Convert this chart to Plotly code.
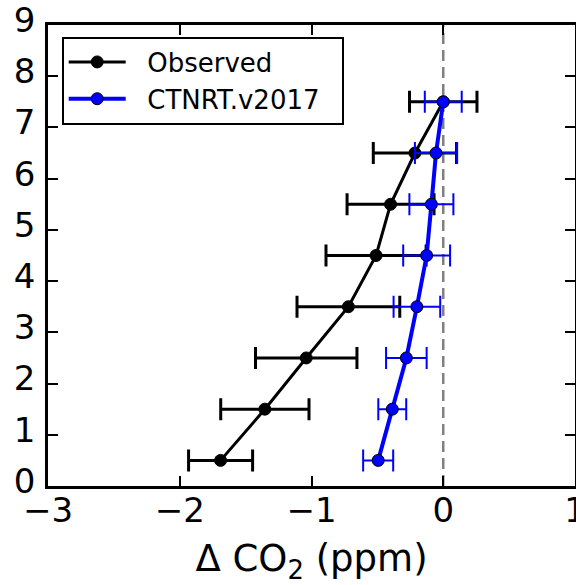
import plotly.graph_objects as go

# Data
altitude = [0.5, 1.5, 2.5, 3.5, 4.5, 5.5, 6.5, 7.5]
obs_dco2 = [-1.69, -1.354, -1.04, -0.72, -0.51, -0.40, -0.215, 0.0]
obs_err = [0.243, 0.335, 0.385, 0.39, 0.38, 0.33, 0.316, 0.256]
mod_dco2 = [-0.494, -0.387, -0.28, -0.20, -0.126, -0.09, -0.055, 0.0]
mod_err = [0.114, 0.106, 0.154, 0.177, 0.178, 0.167, 0.16, 0.14]

series_names = ["Observed", "CTNRT.v2017"]
x_ticks = [-3, -2, -1, 0, 1]
y_ticks = [0, 1, 2, 3, 4, 5, 6, 7, 8, 9]

FONT = "DejaVu Sans"
PAD = "\u00a0\u00a0"

fig = go.Figure()

fig.add_trace(go.Scatter(
    x=obs_dco2, y=altitude, name=PAD + series_names[0] + PAD, mode="lines+markers",
    line=dict(color="black", width=3),
    marker=dict(color="black", size=12, line=dict(color="black", width=1)),
    error_x=dict(type="data", array=obs_err, visible=True, color="black",
                 thickness=3, width=11),
))
fig.add_trace(go.Scatter(
    x=mod_dco2, y=altitude, name=PAD + series_names[1] + PAD, mode="lines+markers",
    line=dict(color="blue", width=4),
    marker=dict(color="blue", size=12, line=dict(color="black", width=1)),
    error_x=dict(type="data", array=mod_err, visible=True, color="blue",
                 thickness=2, width=11),
))

fig.add_shape(type="line", xref="x", yref="paper", x0=0, x1=0, y0=0, y1=1,
              line=dict(color="gray", width=2.5, dash="11px,6px"), layer="below")

axis_common = dict(
    showgrid=False, zeroline=False, showline=True, linecolor="black",
    linewidth=2.5, mirror="ticks", ticks="inside", ticklen=10, tickwidth=1.5,
    tickcolor="black", tickfont=dict(family=FONT, size=34, color="black"),
    ticklabeloverflow="allow", automargin=False,
)

fig.update_xaxes(range=[-3, 1], tickvals=x_ticks, ticklabelstandoff=-8,
                 title=dict(text="Δ CO<sub>2</sub> (ppm)",
                            font=dict(family=FONT, size=37, color="black"),
                            standoff=31),
                 **axis_common)
fig.update_yaxes(range=[0, 9], tickvals=y_ticks, ticklabelstandoff=3,
                 ticklabelshift=-5, **axis_common)

fig.update_layout(
    width=576, height=585,
    margin=dict(l=48, r=1, t=25, b=99),
    plot_bgcolor="white", paper_bgcolor="white",
    font=dict(family=FONT, color="black"),
    showlegend=True,
    legend=dict(x=0.026, y=0.975, xanchor="left", yanchor="top",
                bordercolor="black", borderwidth=2, bgcolor="white",
                font=dict(family=FONT, size=26, color="black"),
                itemwidth=57, tracegroupgap=0),
)

fig.write_html("out.html")
